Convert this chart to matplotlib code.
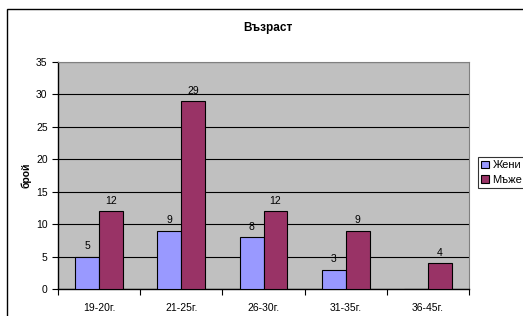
import numpy as np
import matplotlib.pyplot as plt
from matplotlib.patches import Rectangle
from matplotlib.ticker import FixedLocator

plt.rcParams['font.family'] = ['Liberation Sans', 'DejaVu Sans']

categories = ["19-20г.", "21-25г.", "26-30г.", "31-35г.", "36-45г."]
zheni = [5, 9, 8, 3, 0]
mazhe = [12, 29, 12, 9, 4]
zheni_labels = ["5", "9", "8", "3", ""]
mazhe_labels = ["12", "29", "12", "9", "4"]

fig = plt.figure(figsize=(5.23, 3.16), dpi=100)
fig.patches.append(Rectangle((7 / 523, -0.1), 1.2, 307 / 316 + 0.1, transform=fig.transFigure,
                             fill=False, edgecolor='black', linewidth=1.0))

ax = fig.add_axes([58 / 523, 27 / 316, 411 / 523, 227 / 316])
ax.set_facecolor('#C0C0C0')

x = np.arange(len(categories))
w = 0.29
b1 = ax.bar(x - w / 2, zheni, w, color='#9999FF', edgecolor='black', linewidth=0.8, label='Жени', zorder=3)
b2 = ax.bar(x + w / 2, mazhe, w, color='#993366', edgecolor='black', linewidth=0.8, label='Мъже', zorder=3)

for rect, lab in zip(b1, zheni_labels):
    ax.text(rect.get_x() + rect.get_width() / 2, rect.get_height() + 0.8, lab,
            ha='center', va='bottom', fontsize=7.5)
for rect, lab in zip(b2, mazhe_labels):
    ax.text(rect.get_x() + rect.get_width() / 2, rect.get_height() + 0.8, lab,
            ha='center', va='bottom', fontsize=7.5)

ax.set_xlim(-0.5, len(categories) - 0.5)
ax.set_ylim(0, 35)
ax.set_yticks(np.arange(0, 36, 5))
ax.yaxis.grid(True, color='black', linewidth=0.8, zorder=0)
ax.set_axisbelow(True)

ax.set_xticks(x)
ax.set_xticklabels(categories, fontsize=7.5)
ax.xaxis.set_minor_locator(FixedLocator(np.arange(-0.5, len(categories), 1.0)))
ax.tick_params(axis='x', which='major', length=0, pad=10)
ax.tick_params(axis='x', which='minor', length=4, width=0.8, direction='out')
ax.tick_params(axis='y', labelsize=7.5, length=4, width=0.8, direction='out')

for s in ['top', 'right']:
    ax.spines[s].set_color('#808080')
for s in ['left', 'bottom']:
    ax.spines[s].set_color('black')
    ax.spines[s].set_linewidth(1.0)

ax.set_ylabel('брой', fontsize=7.5, fontweight='bold', labelpad=3)
fig.text(268 / 523, 1 - 28 / 316, 'Възраст', ha='center', va='center', fontsize=8.5, fontweight='bold')

leg = fig.legend(loc='upper left', bbox_to_anchor=(478 / 523, 1 - 157 / 316), fontsize=8,
                 frameon=True, fancybox=False, edgecolor='black', handlelength=0.7,
                 handleheight=0.7, handletextpad=0.3, borderpad=0.3, labelspacing=0.4,
                 borderaxespad=0)
leg.get_frame().set_linewidth(0.8)

fig.savefig('out.png', dpi=100)
